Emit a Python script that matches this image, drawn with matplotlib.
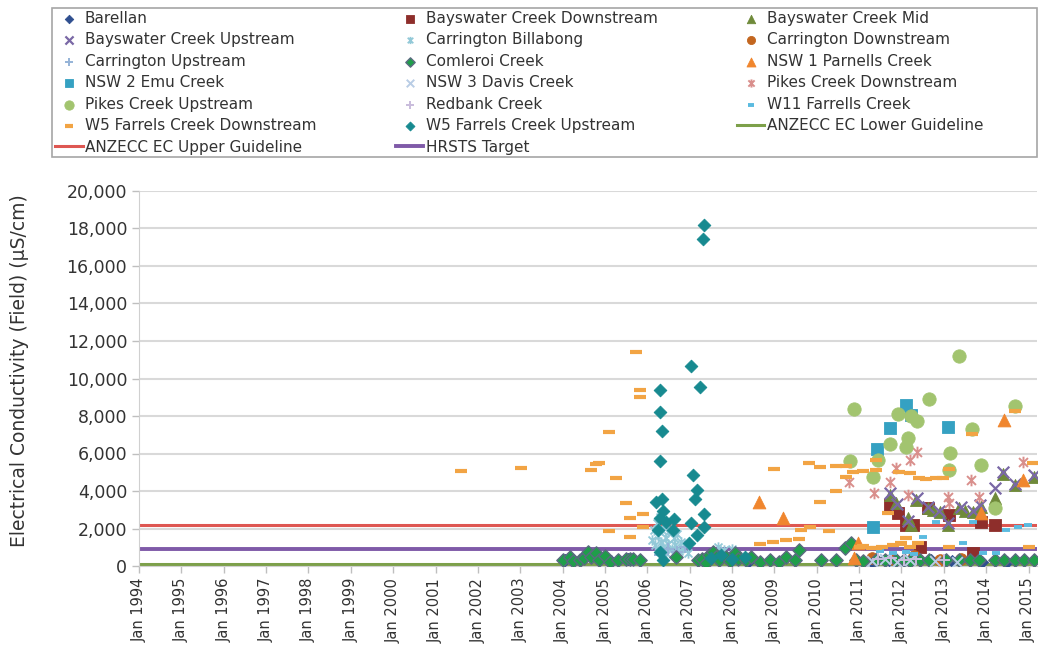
import matplotlib
matplotlib.use('Agg')
import matplotlib.pyplot as plt
from matplotlib.lines import Line2D
from matplotlib.patches import Rectangle
from matplotlib.path import Path
import numpy as np

# sample dates as decimal years, EC values in uS/cm
barellan_t = [2004.05, 2004.45, 2004.75, 2005.15, 2005.55, 2007.45, 2007.9, 2008.4,
              2011.3, 2011.7, 2012.2, 2012.7, 2013.2, 2013.9, 2014.5]
barellan_v = [300, 420, 600, 260, 380, 330, 450, 280, 220, 300, 250, 310, 260, 220, 240]

bays_down_t = [2011.72, 2011.91, 2012.10, 2012.27, 2012.43, 2012.62, 2013.13, 2013.68, 2013.88, 2014.20]
bays_down_v = [3250, 2810, 2190, 2190, 1030, 3080, 2720, 680, 2360, 2190]

bays_mid_t = [2011.72, 2011.88, 2012.15, 2012.23, 2012.35, 2012.62, 2012.75, 2012.90, 2013.09,
              2013.37, 2013.50, 2013.68, 2013.88, 2014.20, 2014.39, 2014.67, 2015.14]
bays_mid_v = [3790, 3340, 2540, 2190, 3520, 3080, 3000, 2900, 2190,
              3080, 2950, 2900, 3160, 3610, 4890, 4320, 4760]

bays_up_t = [2011.72, 2011.90, 2012.15, 2012.36, 2012.62, 2012.88, 2013.09, 2013.40,
             2013.68, 2013.86, 2014.20, 2014.39, 2014.67, 2015.14]
bays_up_v = [3900, 3300, 2400, 3650, 3150, 2950, 2300, 3150, 2950, 3250, 4180, 5000, 4400, 4850]

carr_bill_t = [2006.10, 2006.15, 2006.18, 2006.22, 2006.25, 2006.28, 2006.30, 2006.33, 2006.35,
               2006.38, 2006.40, 2006.43, 2006.45, 2006.48, 2006.50, 2006.55, 2006.58, 2006.62,
               2006.66, 2006.70, 2006.75, 2006.80, 2006.85, 2006.90, 2006.95, 2007.66, 2007.80, 2008.0]
carr_bill_v = [1400, 1900, 1100, 2300, 1600, 800, 2600, 1300, 1900, 1000, 2200, 1500, 700, 1800,
               1200, 2000, 900, 1500, 1100, 1700, 800, 1300, 950, 1100, 700, 1000, 850, 900]

carr_down_t = [2011.3, 2011.8, 2012.3, 2012.9, 2013.4]
carr_down_v = [450, 380, 520, 300, 400]

carr_up_t = [2006.3, 2006.5, 2006.7, 2006.9]
carr_up_v = [600, 900, 750, 1000]

comleroi_t = [2004.01, 2004.17, 2004.25, 2004.40, 2004.50, 2004.60, 2004.68, 2004.80, 2004.87,
              2005.00, 2005.11, 2005.30, 2005.50, 2005.58, 2005.66, 2005.82, 2006.68, 2007.19,
              2007.30, 2007.39, 2007.45, 2007.55, 2007.63, 2007.70, 2007.86, 2007.95, 2008.06,
              2008.15, 2008.34, 2008.45, 2008.65, 2008.89, 2009.12, 2009.28, 2009.48, 2009.59,
              2010.11, 2010.46, 2010.66, 2010.81, 2010.93, 2011.10, 2011.40, 2011.60, 2011.88,
              2012.07, 2012.20, 2012.43, 2012.66, 2013.06, 2013.37, 2013.61, 2013.84, 2014.20,
              2014.43, 2014.67, 2014.90, 2015.14]
comleroi_v = [320, 500, 250, 320, 450, 760, 500, 680, 320,
              550, 230, 300, 400, 350, 380, 320, 500, 320,
              400, 140, 600, 760, 500, 300, 500, 250, 680,
              400, 320, 500, 230, 320, 230, 500, 320, 850,
              320, 320, 940, 1210, 320, 250, 320, 300, 320,
              320, 250, 320, 320, 320, 320, 320, 320, 320,
              320, 320, 320, 320]

nsw1_t = [2008.63, 2009.21, 2010.97, 2010.89, 2013.88, 2014.41, 2014.88]
nsw1_v = [3400, 2540, 1210, 450, 2850, 7790, 4590]

nsw2_t = [2012.10, 2012.23, 2011.72, 2013.09, 2011.43, 2011.34]
nsw2_v = [8570, 8050, 7380, 7400, 6220, 2100]

nsw3_t = [2011.3, 2011.6, 2011.9, 2012.2, 2012.8, 2013.3]
nsw3_v = [250, 350, 200, 300, 280, 220]

pikes_down_t = [2010.77, 2011.36, 2011.72, 2011.88, 2012.19, 2012.36, 2012.15, 2013.09,
                2013.12, 2013.64, 2013.84, 2014.86]
pikes_down_v = [4500, 3870, 4500, 5210, 5650, 6100, 3790, 3700, 3340, 4590, 3700, 5560]

pikes_up_t = [2013.37, 2010.88, 2012.64, 2011.91, 2012.23, 2012.37, 2014.67, 2013.67, 2012.15,
              2012.10, 2011.72, 2010.79, 2011.44, 2011.34, 2013.15, 2013.12, 2013.88, 2014.20]
pikes_up_v = [11200, 8370, 8920, 8110, 8000, 7750, 8530, 7320, 6810,
              6360, 6510, 5600, 5650, 4760, 6040, 5120, 5390, 3110]

redbank_t = [2011.45, 2011.75, 2012.05, 2012.35, 2013.0]
redbank_v = [350, 420, 300, 380, 330]

w11_t = [2011.50, 2011.80, 2012.10, 2012.30, 2012.35, 2012.52, 2012.82, 2013.45, 2013.68,
         2013.93, 2014.24, 2014.47, 2014.75, 2014.98]
w11_v = [800, 700, 750, 650, 1240, 1530, 2360, 1210, 2360, 710, 680, 1920, 2100, 2190]

w5_down_t = [2001.59, 2003.01, 2004.68, 2004.80, 2004.87, 2005.09, 2005.09, 2005.27, 2005.49,
             2005.58, 2005.58, 2005.74, 2005.82, 2005.82, 2005.90, 2005.90,
             2008.65, 2008.96, 2008.98, 2009.28, 2009.59, 2009.63, 2009.81, 2009.83, 2010.07,
             2010.07, 2010.30, 2010.46, 2010.46, 2010.70, 2010.70, 2010.85, 2011.01, 2011.09,
             2011.10, 2011.30, 2011.40, 2011.40, 2011.40, 2011.55, 2011.68, 2011.80, 2011.95,
             2011.99, 2012.00, 2012.11, 2012.19, 2012.20, 2012.40, 2012.42, 2012.58, 2012.82,
             2012.98, 2013.13, 2013.13, 2013.67, 2014.67, 2015.0, 2015.10]
w5_down_v = [5070, 5230, 5100, 5420, 5480, 7150, 1850, 4710, 3380,
             2580, 1560, 11400, 9390, 9010, 2770, 2080,
             1190, 1260, 5190, 1390, 1420, 1920, 5510, 2060, 5280,
             3410, 1850, 5320, 4000, 5320, 4760, 5010, 1030, 5050,
             1050, 950, 5120, 5650, 940, 1000, 2810, 1100, 5000,
             1210, 1150, 1470, 4940, 1000, 1250, 4680, 4620, 4680,
             4680, 5190, 1030, 7020, 8270, 1030, 5510]

w5_up_t = [2006.31, 2006.31, 2006.35, 2006.31, 2007.04, 2007.25, 2007.33, 2007.31, 2007.09,
           2007.18, 2007.13, 2006.21, 2006.35, 2006.37, 2006.29, 2006.45, 2006.64, 2006.60,
           2006.25, 2007.04, 2007.34, 2007.34, 2007.18, 2006.99, 2006.37, 2006.29,
           2007.50, 2007.75, 2008.00, 2008.30]
w5_up_v = [9370, 8210, 7200, 5600, 10680, 9570, 18190, 17460, 4850,
           4040, 3590, 3410, 3590, 2930, 2540, 2360, 2510, 1920,
           1920, 2310, 2760, 2080, 1650, 1210, 320, 760,
           450, 600, 350, 500]

anzecc_lower = 125
anzecc_upper = 2200
hrsts_target = 900

years = list(range(1994, 2016))
tick_labels = ['Jan ' + str(y) for y in years]

# Excel style star marker: x with a vertical bar
star = Path([(-1, -1), (1, 1), (-1, 1), (1, -1), (0, -1.3), (0, 1.3)],
            [Path.MOVETO, Path.LINETO, Path.MOVETO, Path.LINETO, Path.MOVETO, Path.LINETO])

fig = plt.figure(figsize=(10.39, 6.6), dpi=100)
ax = fig.add_axes([139/1039, 94/660, 898/1039, 375/660])

handles = []
def pts(t, v, label, marker, color, s, lw=0.6, filled=True, edge=None):
    if filled:
        h = ax.scatter(t, v, marker=marker, s=s, c=color, edgecolors=edge or color, linewidths=lw,
                       label=label, zorder=3)
    else:
        h = ax.scatter(t, v, marker=marker, s=s, c=color, linewidths=lw, label=label, zorder=3)
    handles.append(h)

pts(barellan_t, barellan_v, 'Barellan', 'D', '#2f4f8f', 38)
pts(bays_down_t, bays_down_v, 'Bayswater Creek Downstream', 's', '#8e2e2b', 70)
pts(bays_mid_t, bays_mid_v, 'Bayswater Creek Mid', '^', '#6f8a3a', 75)
pts(bays_up_t, bays_up_v, 'Bayswater Creek Upstream', 'x', '#7a68a6', 70, lw=1.6, filled=False)
pts(carr_bill_t, carr_bill_v, 'Carrington Billabong', star, '#93c9d8', 55, lw=1.3, filled=False)
pts(carr_down_t, carr_down_v, 'Carrington Downstream', 'o', '#c3661f', 70)
pts(carr_up_t, carr_up_v, 'Carrington Upstream', '+', '#95b3d7', 70, lw=1.4, filled=False)
pts(comleroi_t, comleroi_v, 'Comleroi Creek', 'D', '#1f9e4a', 46, lw=1.0, edge='#5a6b80')
pts(nsw1_t, nsw1_v, 'NSW 1 Parnells Creek', '^', '#f0862e', 85)
pts(nsw2_t, nsw2_v, 'NSW 2 Emu Creek', 's', '#35a1c2', 85)
pts(nsw3_t, nsw3_v, 'NSW 3 Davis Creek', 'x', '#b9cde5', 60, lw=1.4, filled=False)
pts(pikes_down_t, pikes_down_v, 'Pikes Creek Downstream', star, '#d98f8c', 70, lw=1.4, filled=False)
pts(pikes_up_t, pikes_up_v, 'Pikes Creek Upstream', 'o', '#a2c46f', 92)
pts(redbank_t, redbank_v, 'Redbank Creek', '+', '#c9bcdc', 70, lw=1.4, filled=False)
pts(w11_t, w11_v, 'W11 Farrells Creek', '_', '#5bbbe0', 28, lw=2.8, filled=False)
pts(w5_down_t, w5_down_v, 'W5 Farrels Creek Downstream', '_', '#f2a444', 70, lw=3.0, filled=False)
pts(w5_up_t, w5_up_v, 'W5 Farrels Creek Upstream', 'D', '#178a90', 42)

ax.axhline(anzecc_lower, color='#7da04a', lw=2.2, zorder=2)
ax.axhline(anzecc_upper, color='#de5752', lw=2.2, zorder=2)
ax.axhline(hrsts_target, color='#7f5aa8', lw=2.8, zorder=2)
handles.append(Line2D([], [], color='#7da04a', lw=2.2, label='ANZECC EC Lower Guideline'))
handles.append(Line2D([], [], color='#de5752', lw=2.2, label='ANZECC EC Upper Guideline'))
handles.append(Line2D([], [], color='#7f5aa8', lw=2.8, label='HRSTS Target'))

ax.set_xlim(1994, 2015.2)
ax.set_ylim(0, 20000)
ax.set_xticks(years)
ax.set_xticklabels(tick_labels, rotation=90, fontsize=10.5, color='#333333')
ax.set_yticks(np.arange(0, 20001, 2000))
ax.set_yticklabels(['{:,}'.format(v) for v in range(0, 20001, 2000)], fontsize=12.5, color='#333333')
ax.yaxis.grid(True, color='#d9d9d9', lw=1.5)
ax.set_axisbelow(True)
ax.tick_params(axis='both', length=5, color='#bfbfbf', width=1)
for side in ['top', 'right']:
    ax.spines[side].set_visible(False)
ax.spines['left'].set_color('#d0d0d0')
ax.spines['bottom'].set_color('#d0d0d0')
ax.set_ylabel('Electrical Conductivity (Field) (\u00b5S/cm)', fontsize=13.5, color='#333333')
ax.yaxis.set_label_coords(-0.123, 0.52)

# legend filled row by row, three columns, frame drawn separately
n = len(handles)
order = [i for c in range(3) for i in range(c, n, 3)]
leg = fig.legend([handles[i] for i in order], [handles[i].get_label() for i in order],
                 loc='upper left', bbox_to_anchor=(52/1039, 1 - 8/660),
                 ncol=3, fontsize=11, frameon=False, borderaxespad=0, borderpad=0.2,
                 labelspacing=0.42, handlelength=1.8, handletextpad=0.15,
                 columnspacing=5.2, scatterpoints=1, markerscale=0.7)
for t in leg.get_texts():
    t.set_color('#333333')
fig.patches.append(Rectangle((52/1039, 1 - 157/660), 985/1039, 149/660, transform=fig.transFigure,
                             fill=False, edgecolor='#a6a6a6', lw=1.2))

fig.savefig('out.png', dpi=100)
